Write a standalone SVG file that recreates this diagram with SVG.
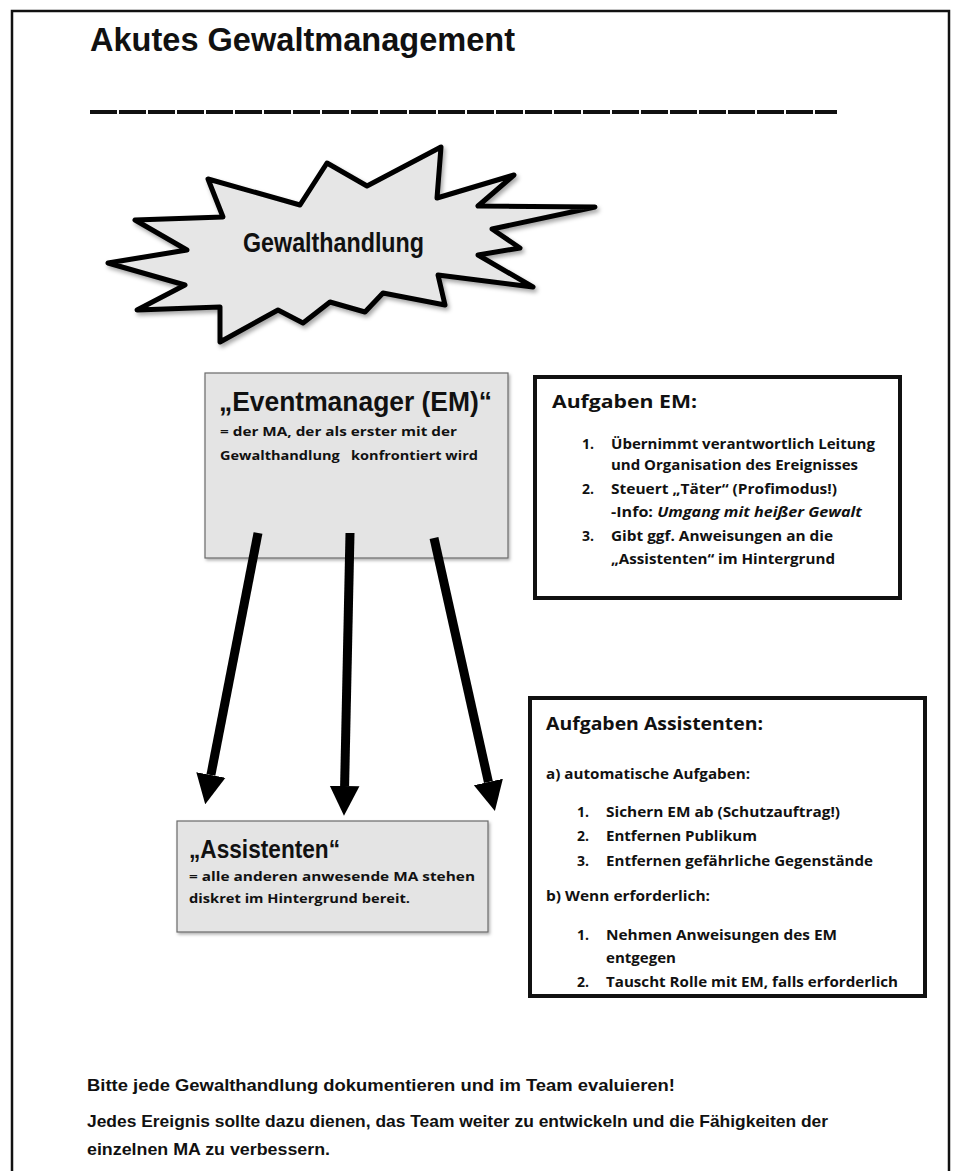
<svg xmlns="http://www.w3.org/2000/svg" width="957" height="1171" viewBox="0 0 957 1171">
<defs>
<style>
.t{font-family:"Liberation Sans",Arial,sans-serif;font-weight:bold;fill:#111}
.o{font-family:"Open Sans","Liberation Sans",sans-serif;font-weight:bold;fill:#111}
.box{fill:#e4e4e4;stroke:#6a6a6a;stroke-width:1.2}
.arrow{stroke:#000;stroke-width:9;fill:none;marker-end:url(#ah)}
</style>
<marker id="ah" viewBox="0 0 10 10" refX="0" refY="5" markerWidth="3.3" markerHeight="3.8" orient="auto" markerUnits="strokeWidth">
<path d="M0,0 L10,5 L0,10 z" fill="#000"/>
</marker>
<filter id="sh" x="-10%" y="-10%" width="125%" height="130%">
<feDropShadow dx="2" dy="3" stdDeviation="2" flood-color="#000" flood-opacity="0.35"/>
</filter>
<filter id="sh2" x="-5%" y="-5%" width="112%" height="115%">
<feDropShadow dx="1.5" dy="2" stdDeviation="1.5" flood-color="#000" flood-opacity="0.3"/>
</filter>
</defs>
<rect width="957" height="1171" fill="#fff"/>
<path d="M12,1171 L12,11 L949,11 L949,1171" fill="none" stroke="#111" stroke-width="2.5"/>

<g id="title">
<text class="t" x="90" y="51" font-size="34" textLength="425" lengthAdjust="spacingAndGlyphs">Akutes Gewaltmanagement</text>
<line x1="90" y1="112" x2="837" y2="112" stroke="#111" stroke-width="4" stroke-dasharray="27 2"/>
</g>

<g id="gewalthandlung">
<path d="M108,263 L187,250 L135,220 L223,217 L208,179 L300,205 L327,163 L367,186 L441,147 L437,198 L514,175 L478,206 L595,207 L492,229 L520,248 L478,255 L533,287 L438,275 L445,305 L383,293 L365,312 L330,302 L303,323 L278,310 L220,342 L220,307 L137,310 L185,285 Z" fill="#e6e6e6" stroke="#000" stroke-width="5" stroke-linejoin="round" filter="url(#sh)"/>
<text class="t" x="243" y="252" font-size="28" textLength="181" lengthAdjust="spacingAndGlyphs">Gewalthandlung</text>
</g>

<g id="eventmanager">
<rect class="box" x="205" y="373" width="303" height="185" filter="url(#sh2)"/>
<text class="t" x="219" y="411" font-size="27" textLength="273" lengthAdjust="spacingAndGlyphs">„Eventmanager (EM)“</text>
<text class="o" x="220" y="436" font-size="13" textLength="237" lengthAdjust="spacingAndGlyphs">= der MA, der als erster mit der</text>
<text class="o" x="220" y="460" font-size="13" textLength="258" lengthAdjust="spacingAndGlyphs" xml:space="preserve">Gewalthandlung   konfrontiert wird</text>
</g>

<g id="connectors">
<line class="arrow" x1="258" y1="533" x2="210.9" y2="775"/>
<line class="arrow" x1="350" y1="533" x2="344.6" y2="786"/>
<line class="arrow" x1="434" y1="538" x2="488.4" y2="782"/>
</g>

<g id="assistenten">
<rect class="box" x="177" y="821" width="311" height="111" filter="url(#sh2)"/>
<text class="t" x="189" y="858" font-size="25" textLength="151" lengthAdjust="spacingAndGlyphs">„Assistenten“</text>
<text class="o" x="189" y="881" font-size="13" textLength="286" lengthAdjust="spacingAndGlyphs">= alle anderen anwesende MA stehen</text>
<text class="o" x="189" y="903" font-size="13" textLength="221" lengthAdjust="spacingAndGlyphs">diskret im Hintergrund bereit.</text>
</g>

<g id="aufgaben-em">
<rect x="535" y="377" width="365" height="221" fill="#fff" stroke="#111" stroke-width="4"/>
<text class="o" x="552" y="408" font-size="18" textLength="145" lengthAdjust="spacingAndGlyphs">Aufgaben EM:</text>
<text class="o" x="582" y="449" font-size="14">1.</text>
<text class="o" x="611" y="449" font-size="14" textLength="264" lengthAdjust="spacingAndGlyphs">Übernimmt verantwortlich Leitung</text>
<text class="o" x="611" y="470" font-size="14" textLength="247" lengthAdjust="spacingAndGlyphs">und Organisation des Ereignisses</text>
<text class="o" x="582" y="494" font-size="14">2.</text>
<text class="o" x="611" y="494" font-size="14" textLength="226" lengthAdjust="spacingAndGlyphs">Steuert „Täter“ (Profimodus!)</text>
<text class="o" x="611" y="517" font-size="14" textLength="251" lengthAdjust="spacingAndGlyphs">-Info: <tspan font-style="italic">Umgang mit heißer Gewalt</tspan></text>
<text class="o" x="582" y="541" font-size="14">3.</text>
<text class="o" x="611" y="541" font-size="14" textLength="222" lengthAdjust="spacingAndGlyphs">Gibt ggf. Anweisungen an die</text>
<text class="o" x="611" y="564" font-size="14" textLength="224" lengthAdjust="spacingAndGlyphs">„Assistenten“ im Hintergrund</text>
</g>

<g id="aufgaben-assistenten">
<rect x="530" y="698" width="395" height="298" fill="#fff" stroke="#111" stroke-width="4"/>
<text class="o" x="546" y="730" font-size="18" textLength="217" lengthAdjust="spacingAndGlyphs">Aufgaben Assistenten:</text>
<text class="o" x="546" y="779" font-size="14" textLength="204" lengthAdjust="spacingAndGlyphs">a) automatische Aufgaben:</text>
<text class="o" x="577" y="817" font-size="14">1.</text>
<text class="o" x="606" y="817" font-size="14" textLength="234" lengthAdjust="spacingAndGlyphs">Sichern EM ab (Schutzauftrag!)</text>
<text class="o" x="577" y="841" font-size="14">2.</text>
<text class="o" x="606" y="841" font-size="14" textLength="151" lengthAdjust="spacingAndGlyphs">Entfernen Publikum</text>
<text class="o" x="577" y="866" font-size="14">3.</text>
<text class="o" x="606" y="866" font-size="14" textLength="267" lengthAdjust="spacingAndGlyphs">Entfernen gefährliche Gegenstände</text>
<text class="o" x="546" y="901" font-size="14" textLength="164" lengthAdjust="spacingAndGlyphs">b) Wenn erforderlich:</text>
<text class="o" x="577" y="940" font-size="14">1.</text>
<text class="o" x="606" y="940" font-size="14" textLength="231" lengthAdjust="spacingAndGlyphs">Nehmen Anweisungen des EM</text>
<text class="o" x="606" y="963" font-size="14" textLength="70" lengthAdjust="spacingAndGlyphs">entgegen</text>
<text class="o" x="577" y="987" font-size="14">2.</text>
<text class="o" x="606" y="987" font-size="14" textLength="292" lengthAdjust="spacingAndGlyphs">Tauscht Rolle mit EM, falls erforderlich</text>
</g>

<g id="footer">
<text class="t" x="87" y="1091" font-size="17" textLength="588" lengthAdjust="spacingAndGlyphs">Bitte jede Gewalthandlung dokumentieren und im Team evaluieren!</text>
<text class="t" x="87" y="1127" font-size="17" textLength="741" lengthAdjust="spacingAndGlyphs">Jedes Ereignis sollte dazu dienen, das Team weiter zu entwickeln und die Fähigkeiten der</text>
<text class="t" x="87" y="1155" font-size="17" textLength="243" lengthAdjust="spacingAndGlyphs">einzelnen MA zu verbessern.</text>
</g>
</svg>
